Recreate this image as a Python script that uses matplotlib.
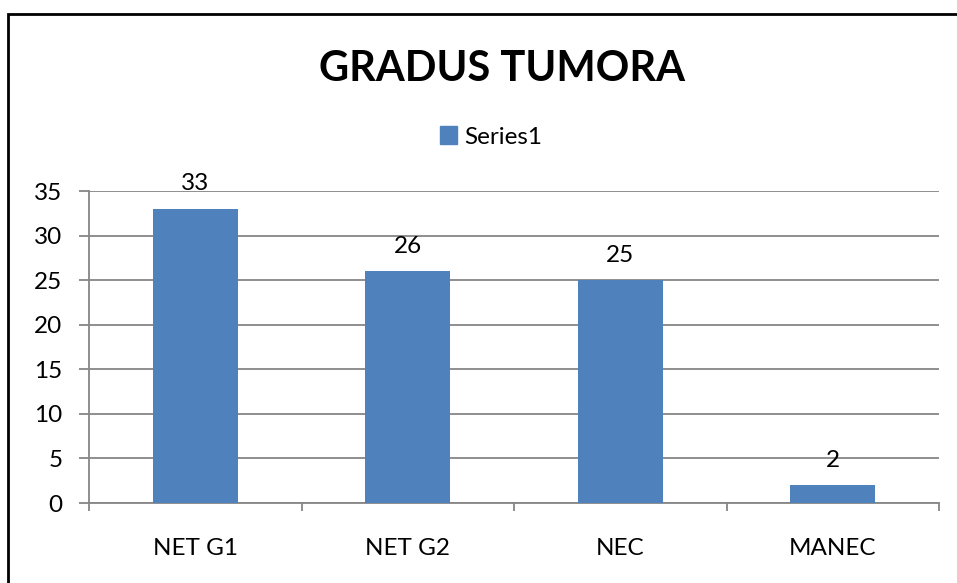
import matplotlib
matplotlib.use('Agg')
import matplotlib.pyplot as plt
from matplotlib.patches import Rectangle, Patch

categories = ['NET G1', 'NET G2', 'NEC', 'MANEC']
values = [33, 26, 25, 2]
y_ticks = [0, 5, 10, 15, 20, 25, 30, 35]

plt.rcParams['font.family'] = ['Lato', 'DejaVu Sans']
fs = 17.5

W, H = 957, 583
fig = plt.figure(figsize=(W / 100, H / 100), dpi=100)
fig.patch.set_facecolor('white')

# axes placed in pixel terms
left, right, top, bottom = 89, 939, 191, 503
ax = fig.add_axes([left / W, (H - bottom) / H, (right - left) / W, (bottom - top) / H])

x = list(range(len(categories)))
bars = ax.bar(x, values, width=0.4, color='#4F81BD', zorder=3)

ax.set_xlim(-0.5, len(categories) - 0.5)
ax.set_ylim(0, 35)
ax.set_yticks(y_ticks)
ax.set_yticklabels([str(t) for t in y_ticks], fontsize=fs)
ax.yaxis.grid(True, color='#868686', linewidth=1.3, zorder=0)

# x ticks at category boundaries, labels at centers
ax.set_xticks([i - 0.5 for i in range(len(categories) + 1)])
ax.set_xticklabels([])
ax.set_xticks(x, minor=True)
ax.set_xticklabels(categories, minor=True, fontsize=fs)
ax.tick_params(axis='x', which='minor', length=0, pad=25)
ax.tick_params(axis='x', which='major', length=6, color='#868686', width=1.3)
ax.tick_params(axis='y', length=7, color='#868686', width=1.3, pad=12)

for s in ['top', 'right']:
    ax.spines[s].set_visible(False)
for s in ['left', 'bottom']:
    ax.spines[s].set_color('#868686')
    ax.spines[s].set_linewidth(1.3)

for b, v in zip(bars, values):
    ax.annotate(str(v), (b.get_x() + b.get_width() / 2, v), xytext=(0, 18),
                textcoords='offset points', ha='center', va='center', fontsize=fs)

fig.text(502 / W, 1 - 69 / H, 'GRADUS TUMORA', ha='center', va='center',
         fontsize=30, fontweight='bold')

fig.legend(handles=[Patch(color='#4F81BD', label='Series1')], loc='center',
           bbox_to_anchor=(491 / W, 1 - 137 / H), frameon=False, fontsize=fs,
           handlelength=0.7, handleheight=0.7, handletextpad=0.3)

# outer chart border
fig.patches.append(Rectangle((8 / W, -0.1), 1.2, 1 - 14 / H + 0.1, transform=fig.transFigure,
                             fill=False, edgecolor='black', linewidth=2))

fig.savefig('out.png', dpi=100)
